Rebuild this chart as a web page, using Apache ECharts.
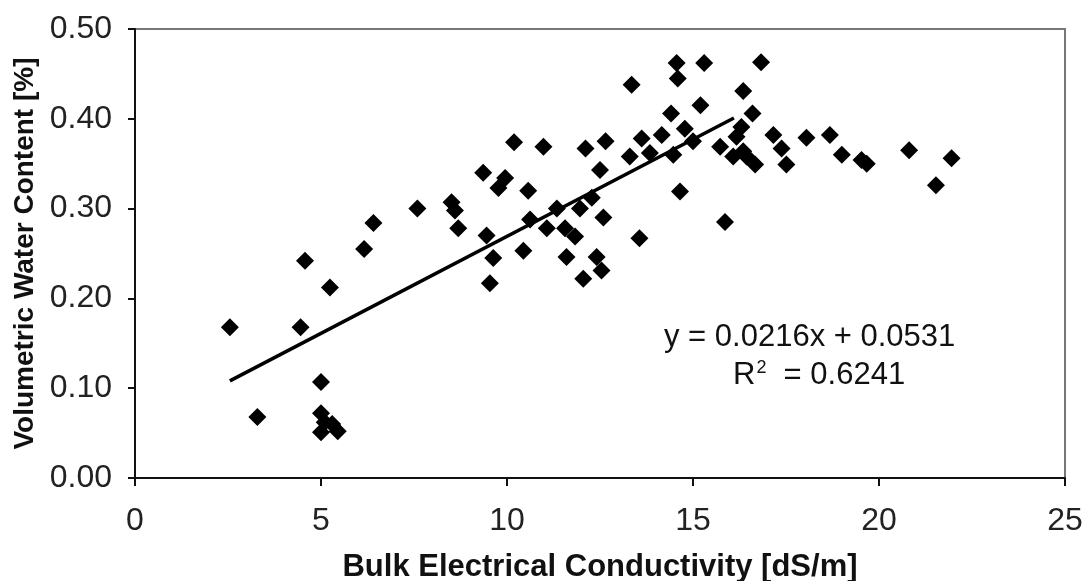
<!DOCTYPE html>
<html>
<head>
<meta charset="utf-8">
<script src="https://cdn.jsdelivr.net/npm/echarts@6/dist/echarts.min.js"></script>
<style>
  html, body { margin: 0; padding: 0; background: #fff; }
  #chart { width: 1085px; height: 581px; }
</style>
</head>
<body>
<div id="chart"></div>
<script>
// EC (dS/m) vs water content
const ecValues = [
  2.55, 3.29, 4.45, 4.57, 5.0, 5.0, 5.1, 5.3, 5.0, 5.45,
  5.24, 6.16, 6.41, 7.59, 8.51, 8.6, 8.69, 9.36, 9.45, 9.54,
  9.63, 9.77, 9.95, 10.19, 10.44, 10.57, 10.62, 10.98, 11.07, 11.34,
  11.56, 11.6, 11.83, 11.96, 12.05, 12.11, 12.28, 12.41, 12.54, 12.5,
  12.59, 12.65, 13.3, 13.35, 13.56, 13.62, 13.84, 14.16, 14.41, 14.47,
  14.56, 14.59, 14.65, 14.78, 15.0, 15.2, 15.3, 15.73, 15.86, 16.08,
  16.17, 16.3, 16.35, 16.44, 16.6, 16.67, 16.83, 17.16, 17.38, 17.51,
  18.05, 18.68, 19.0, 19.53, 19.67, 20.81, 21.53, 21.95, 16.35
];
const wcValues = [
  0.168, 0.068, 0.168, 0.242, 0.107, 0.072, 0.062, 0.060, 0.051, 0.052,
  0.212, 0.255, 0.284, 0.300, 0.307, 0.298, 0.278, 0.340, 0.270, 0.217,
  0.245, 0.323, 0.334, 0.374, 0.253, 0.320, 0.288, 0.369, 0.278, 0.300,
  0.278, 0.246, 0.269, 0.300, 0.222, 0.367, 0.312, 0.246, 0.231, 0.343,
  0.290, 0.375, 0.358, 0.438, 0.267, 0.378, 0.362, 0.382, 0.406, 0.360,
  0.462, 0.445, 0.319, 0.389, 0.375, 0.415, 0.462, 0.369, 0.285, 0.358,
  0.380, 0.391, 0.431, 0.358, 0.406, 0.349, 0.463, 0.382, 0.367, 0.349,
  0.379, 0.382, 0.360, 0.354, 0.350, 0.365, 0.326, 0.356, 0.364
];

// linear trend as printed on the chart
const slope = 0.0216;
const intercept = 0.0531;
const trendX = [2.55, 16.1];

const xTicks = [0, 5, 10, 15, 20, 25];
const yTicks = [0, 0.1, 0.2, 0.3, 0.4, 0.5];

const points = ecValues.map((x, i) => [x, wcValues[i]]);
const trendLine = trendX.map(x => [x, slope * x + intercept]);

const chart = echarts.init(document.getElementById('chart'));
const font = 'Liberation Sans, Arial, sans-serif';

chart.setOption({
  backgroundColor: '#fff',
  animation: false,
  grid: {
    left: 135,
    right: 20,
    top: 29,
    bottom: 103,
    outerBoundsMode: 'none',
    containLabel: false,
    show: true,
    borderColor: '#777',
    borderWidth: 2
  },
  xAxis: {
    type: 'value',
    min: xTicks[0],
    max: xTicks[xTicks.length - 1],
    interval: 5,
    name: 'Bulk Electrical Conductivity [dS/m]',
    nameLocation: 'middle',
    nameGap: 74,
    nameTextStyle: { fontFamily: font, fontSize: 31, fontWeight: 'bold', color: '#111' },
    axisLine: { show: true, lineStyle: { color: '#111', width: 2 } },
    axisTick: { show: true, inside: false, length: 8, lineStyle: { color: '#111', width: 2 } },
    axisLabel: { fontFamily: font, fontSize: 32, color: '#222', margin: 27 },
    splitLine: { show: false }
  },
  yAxis: {
    type: 'value',
    min: yTicks[0],
    max: yTicks[yTicks.length - 1],
    interval: 0.1,
    name: 'Volumetric Water Content [%]',
    nameLocation: 'middle',
    nameGap: 95,
    nameTextStyle: { fontFamily: font, fontSize: 28, fontWeight: 'bold', color: '#111' },
    axisLine: { show: true, lineStyle: { color: '#111', width: 2 } },
    axisTick: { show: true, inside: false, length: 7, lineStyle: { color: '#111', width: 2 } },
    axisLabel: {
      fontFamily: font, fontSize: 32, color: '#222', margin: 23,
      formatter: v => v.toFixed(2)
    },
    splitLine: { show: false }
  },
  series: [
    {
      type: 'scatter',
      data: points,
      symbol: 'diamond',
      symbolSize: 18,
      itemStyle: { color: '#000', opacity: 1 },
      z: 3
    },
    {
      type: 'line',
      data: trendLine,
      showSymbol: false,
      symbol: 'none',
      lineStyle: { color: '#000', width: 3.5 },
      z: 4
    }
  ],
  graphic: [
    {
      type: 'text',
      left: 664,
      top: 322,
      style: {
        text: 'y = 0.0216x + 0.0531',
        font: '31px ' + font,
        fill: '#111'
      }
    },
    {
      type: 'text',
      left: 733,
      top: 359,
      style: {
        text: '{b|R}{s|2}{b|  = 0.6241}',
        rich: {
          b: { font: '31px ' + font, fill: '#111', verticalAlign: 'bottom' },
          s: { font: '18px ' + font, fill: '#111', verticalAlign: 'top', padding: [0, 0, 14, 1] }
        }
      }
    }
  ]
});
</script>
</body>
</html>
